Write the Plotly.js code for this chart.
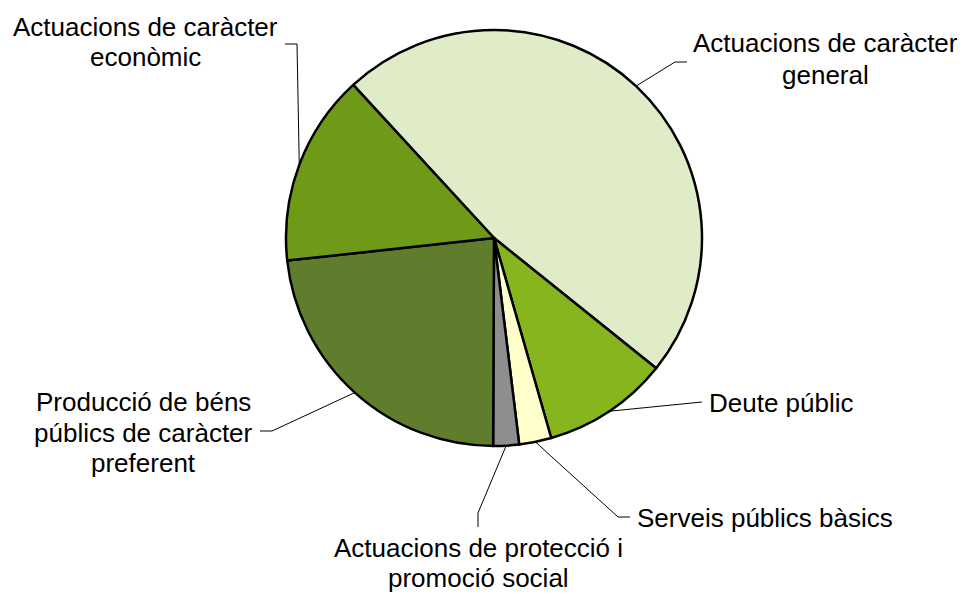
<!DOCTYPE html>
<html>
<head>
<meta charset="utf-8">
<script src="https://cdn.plot.ly/plotly-3.0.1.min.js"></script>
<style>
html,body{margin:0;padding:0;background:#fff;}
#chart{width:964px;height:594px;}
</style>
</head>
<body>
<div id="chart"></div>
<script>
// ---- data ----
const categories = [
  "Actuacions de caràcter general",
  "Deute públic",
  "Serveis públics bàsics",
  "Actuacions de protecció i promoció social",
  "Producció de béns públics de caràcter preferent",
  "Actuacions de caràcter econòmic"
];
const shares = [47.6, 9.8, 2.5, 2.0, 23.2, 14.9];
// label text split in lines as drawn
const labelLines = [
  ["Actuacions de caràcter", "general"],
  ["Deute públic"],
  ["Serveis públics bàsics"],
  ["Actuacions de protecció i", "promoció social"],
  ["Producció de béns", "públics de caràcter", "preferent"],
  ["Actuacions de caràcter", "econòmic"]
];

// ---- style / layout ----
const sliceColors = ["#E0EBC7", "#86B51E", "#FFFFCC", "#8E8E8E", "#5F7D2C", "#6F9A18"];
const W = 964, H = 594, CX = 494, CY = 238, R = 208;
const ROT = 317.4;
const FONT = "Liberation Sans, Arial, sans-serif";
const FS = 26;

const px = x => x / W;
const py = y => 1 - y / H;

// label placement: per slice, the line centres, anchor and the leader bend points
const labelPlace = [
  {x: 825, ys: [43.5, 74.5], anchor: "center", bend: [[675, 62], [687, 62]]},
  {x: 707, ys: [402.5], anchor: "left", bend: [[702, 402]]},
  {x: 635, ys: [517.5], anchor: "left", bend: [[618, 517], [630, 517]]},
  {x: 478, ys: [548, 578], anchor: "center", bend: [[478, 513], [478, 527]]},
  {x: 143, ys: [401.5, 433, 463], anchor: "center", bend: [[272, 431], [260, 431]]},
  {x: 145, ys: [27.5, 56.5], anchor: "center", bend: [[297, 44], [285, 44]]}
];

const total = shares.reduce((a, b) => a + b, 0);
const annotations = [];
const shapes = [];
let cum = 0;
shares.forEach((v, i) => {
  const mid = (ROT + (cum + v / 2) / total * 360) * Math.PI / 180;
  cum += v;
  const ax = CX + R * Math.sin(mid), ay = CY - R * Math.cos(mid);
  const pl = labelPlace[i];
  let path = "M " + px(ax) + "," + py(ay);
  pl.bend.forEach(p => { path += " L " + px(p[0]) + "," + py(p[1]); });
  shapes.push({type: "path", xref: "paper", yref: "paper", path: path,
    line: {color: "#000", width: 1}});
  labelLines[i].forEach((t, k) => {
    annotations.push({xref: "paper", yref: "paper", x: px(pl.x), y: py(pl.ys[k]),
      xanchor: pl.anchor, yanchor: "middle", text: t, showarrow: false,
      font: {family: FONT, size: FS, color: "#000"}});
  });
});

const trace = {
  type: "pie",
  labels: categories,
  values: shares,
  sort: false,
  direction: "clockwise",
  rotation: ROT,
  textinfo: "none",
  hoverinfo: "label+percent",
  marker: {colors: sliceColors, line: {color: "#000", width: 2.5}},
  domain: {x: [px(CX - R), px(CX + R)], y: [py(CY + R), py(CY - R)]}
};

Plotly.newPlot("chart", [trace], {
  width: W, height: H,
  margin: {l: 0, r: 0, t: 0, b: 0},
  paper_bgcolor: "#fff",
  showlegend: false,
  annotations: annotations,
  shapes: shapes
}, {displayModeBar: false, staticPlot: true});
</script>
</body>
</html>
